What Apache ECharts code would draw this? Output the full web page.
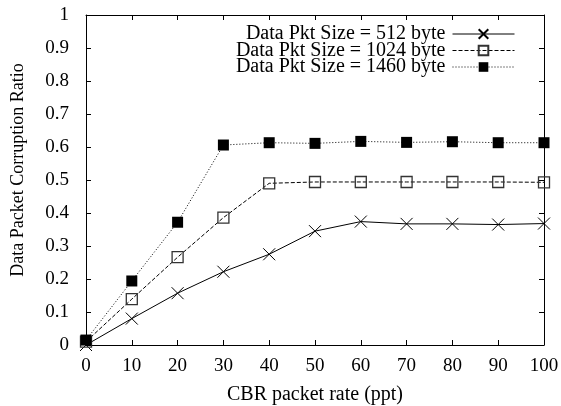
<!DOCTYPE html>
<html>
<head>
<meta charset="utf-8">
<script src="https://cdn.jsdelivr.net/npm/echarts@6/dist/echarts.min.js"></script>
<style>
  html, body { margin: 0; padding: 0; background: #fff; }
  #chart { width: 561px; height: 406px; }
</style>
</head>
<body>
<div id="chart"></div>
<script>
// CBR packet rate (ppt) on the x axis
const rates = [0, 10, 20, 30, 40, 50, 60, 70, 80, 90, 100];

// Data packet corruption ratio per data packet size
const size512  = [0.00, 0.080, 0.157, 0.222, 0.275, 0.345, 0.374, 0.367, 0.367, 0.365, 0.368];
const size1024 = [0.010, 0.139, 0.266, 0.386, 0.490, 0.494, 0.494, 0.494, 0.494, 0.494, 0.493];
const size1460 = [0.015, 0.194, 0.372, 0.606, 0.613, 0.611, 0.617, 0.614, 0.616, 0.613, 0.613];

const seriesNames = [
  'Data Pkt Size = 512 byte',
  'Data Pkt Size = 1024 byte',
  'Data Pkt Size = 1460 byte'
];

const FONT = '"Liberation Serif", "Times New Roman", serif';

function pairs(ys) { return rates.map((x, i) => [x, ys[i]]); }

const chart = echarts.init(document.getElementById('chart'), null, { renderer: 'canvas' });

const tickStyle = { show: true, inside: true, length: 5, lineStyle: { color: '#000', width: 1 } };

chart.setOption({
  animation: false,
  backgroundColor: '#fff',
  grid: { left: 86, right: 17, top: 15, bottom: 61, outerBoundsMode: 'none', containLabel: false },
  legend: {
    orient: 'vertical',
    right: 41,
    top: 19,
    align: 'right',
    itemWidth: 62,
    itemHeight: 12,
    itemGap: -3.5,
    selectedMode: false,
    lineStyle: { width: 1 },
    textStyle: { fontFamily: FONT, fontSize: 20, color: '#000', padding: [0, 2, 0, 0] },
    data: seriesNames
  },
  xAxis: [{
    type: 'value', min: 0, max: 100, interval: 10,
    name: 'CBR packet rate (ppt)', nameLocation: 'middle', nameGap: 40,
    nameTextStyle: { fontFamily: FONT, fontSize: 20, color: '#000' },
    axisLine: { show: true, onZero: false, lineStyle: { color: '#000', width: 1 } },
    axisTick: tickStyle,
    axisLabel: { fontFamily: FONT, fontSize: 19, color: '#000', margin: 12 },
    splitLine: { show: false }
  }, {
    type: 'value', min: 0, max: 100, interval: 10, position: 'top',
    axisLine: { show: true, onZero: false, lineStyle: { color: '#000', width: 1 } },
    axisTick: tickStyle,
    axisLabel: { show: false },
    splitLine: { show: false }
  }],
  yAxis: [{
    type: 'value', min: 0, max: 1, interval: 0.1,
    name: 'Data Packet Corruption Ratio', nameLocation: 'middle', nameGap: 59,
    nameTextStyle: { fontFamily: FONT, fontSize: 18, color: '#000', padding: [0, 0, 0, 20] },
    axisLine: { show: true, onZero: false, lineStyle: { color: '#000', width: 1 } },
    axisTick: tickStyle,
    axisLabel: { fontFamily: FONT, fontSize: 19, color: '#000', margin: 17 },
    splitLine: { show: false }
  }, {
    type: 'value', min: 0, max: 1, interval: 0.1, position: 'right',
    axisLine: { show: true, onZero: false, lineStyle: { color: '#000', width: 1 } },
    axisTick: tickStyle,
    axisLabel: { show: false },
    splitLine: { show: false }
  }],
  series: [{
    name: seriesNames[0],
    type: 'line',
    data: pairs(size512),
    symbol: 'path://M0,0L10,10M10,0L0,10',
    symbolSize: 12,
    lineStyle: { color: '#000', width: 1, type: 'solid' },
    itemStyle: { color: '#000', borderColor: '#000', borderWidth: 1 },
    z: 3
  }, {
    name: seriesNames[1],
    type: 'line',
    data: pairs(size1024),
    symbol: 'rect',
    symbolSize: 11,
    lineStyle: { color: '#000', width: 1, type: [4, 2] },
    itemStyle: { color: 'rgba(255,255,255,0)', borderColor: '#333', borderWidth: 1.3 },
    z: 4
  }, {
    name: seriesNames[2],
    type: 'line',
    data: pairs(size1460),
    symbol: 'rect',
    symbolSize: 11,
    lineStyle: { color: '#000', width: 1, type: [1, 2] },
    itemStyle: { color: '#000', borderColor: '#000', borderWidth: 0 },
    z: 5
  }]
});
</script>
</body>
</html>
